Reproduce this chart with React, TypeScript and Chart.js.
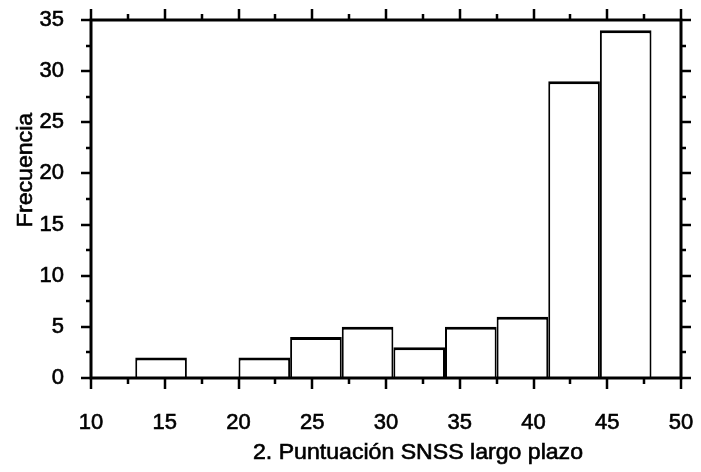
import React, { useEffect, useRef } from "react";
import { Chart, registerables } from "chart.js";

Chart.register(...registerables);

// Histogram bins (lower/upper edges) and their frequencies
const binEdges = [13, 16.5, 20, 23.5, 27, 30.5, 34, 37.5, 41, 44.5, 48];
const frequencies = [2, 0, 2, 4, 5, 3, 5, 6, 29, 34];

const xTickValues = [10, 15, 20, 25, 30, 35, 40, 45, 50];
const yTickValues = [0, 5, 10, 15, 20, 25, 30, 35];

const xTitle = "2. Puntuación SNSS largo plazo";
const yTitle = "Frecuencia";

const FONT = "'Liberation Sans', Arial, Helvetica, sans-serif";

// Draws the boxed frame, outward major/minor ticks on all four sides and the axis titles
const framePlugin = {
  id: "frame",
  afterDraw(chart: any) {
    const { ctx, chartArea } = chart;
    const { left, right, top, bottom } = chartArea;
    const xs = chart.scales.x;
    const ys = chart.scales.y;
    ctx.save();
    ctx.strokeStyle = "#000";
    ctx.lineCap = "butt";

    ctx.lineWidth = 2.5;
    const majorLen = 11;
    const minorLen = 6;

    const drawX = (v: number, len: number) => {
      const px = Math.round(xs.getPixelForValue(v));
      ctx.beginPath();
      ctx.moveTo(px, bottom);
      ctx.lineTo(px, bottom + len);
      ctx.moveTo(px, top);
      ctx.lineTo(px, top - len);
      ctx.stroke();
    };
    const drawY = (v: number, len: number) => {
      const py = Math.round(ys.getPixelForValue(v));
      ctx.beginPath();
      ctx.moveTo(left, py);
      ctx.lineTo(left - len, py);
      ctx.moveTo(right, py);
      ctx.lineTo(right + len, py);
      ctx.stroke();
    };

    xTickValues.forEach((v, i) => {
      drawX(v, majorLen);
      if (i < xTickValues.length - 1) drawX((v + xTickValues[i + 1]) / 2, minorLen);
    });
    yTickValues.forEach((v, i) => {
      drawY(v, majorLen - 1);
      if (i < yTickValues.length - 1) drawY((v + yTickValues[i + 1]) / 2, minorLen - 1);
    });

    ctx.lineWidth = 3;
    ctx.strokeRect(left, top, right - left, bottom - top);

    ctx.fillStyle = "#000";
    ctx.font = `22px ${FONT}`;
    ctx.textAlign = "center";
    ctx.textBaseline = "alphabetic";
    ctx.lineWidth = 0.6;

    ctx.save();
    ctx.translate(418, 459);
    ctx.scale(1.05, 1);
    ctx.fillText(xTitle, 0, 0);
    ctx.strokeText(xTitle, 0, 0);
    ctx.restore();

    ctx.save();
    ctx.translate(32, 170);
    ctx.rotate(-Math.PI / 2);
    ctx.scale(1.05, 1);
    ctx.fillText(yTitle, 0, 0);
    ctx.strokeText(yTitle, 0, 0);
    ctx.restore();

    ctx.restore();
  },
};

// Fixed scale sizes, without the extra padding Chart.js reserves for label overhang
const fixScale = (size: { width?: number; height?: number }) => (s: any) => {
  if (size.width !== undefined) s.width = size.width;
  if (size.height !== undefined) s.height = size.height;
  s.paddingTop = 0;
  s.paddingBottom = 0;
  s.paddingLeft = 0;
  s.paddingRight = 0;
};

export default function App() {
  const canvasRef = useRef<HTMLCanvasElement | null>(null);

  useEffect(() => {
    const canvas = canvasRef.current;
    if (!canvas) return;

    const points = frequencies.map((f, i) => ({
      x: (binEdges[i] + binEdges[i + 1]) / 2,
      y: f,
    }));

    const tickFont = { family: FONT, size: 22 };

    const chart = new Chart(canvas, {
      type: "bar",
      data: {
        datasets: [
          {
            data: points as any,
            backgroundColor: "#ffffff",
            borderColor: "#000000",
            borderWidth: { top: 3, left: 2, right: 2, bottom: 0 },
            borderSkipped: "start",
            barPercentage: 1,
            categoryPercentage: 1,
            inflateAmount: 0,
          },
        ],
      },
      options: {
        responsive: false,
        animation: false,
        devicePixelRatio: 1,
        layout: { padding: { left: 0, right: 20, top: 20, bottom: 0 } },
        plugins: {
          legend: { display: false },
          tooltip: { enabled: false },
        },
        scales: {
          x: {
            type: "linear",
            min: 10,
            max: 50,
            offset: false,
            afterFit: fixScale({ height: 94 }),
            afterBuildTicks: (s: any) => {
              s.ticks = xTickValues.map((v) => ({ value: v }));
            },
            grid: {
              display: true,
              drawOnChartArea: false,
              drawTicks: true,
              tickLength: 10,
              color: "rgba(0,0,0,0)",
              offset: false,
            },
            border: { display: false },
            ticks: {
              padding: 22,
              color: "#000",
              font: tickFont,
              textStrokeColor: "#000",
              textStrokeWidth: 0.6,
              maxRotation: 0,
              autoSkip: false,
            },
          },
          y: {
            type: "linear",
            min: 0,
            max: 35,
            afterFit: fixScale({ width: 91 }),
            afterBuildTicks: (s: any) => {
              s.ticks = yTickValues.map((v) => ({ value: v }));
            },
            grid: {
              display: true,
              drawOnChartArea: false,
              drawTicks: true,
              tickLength: 10,
              color: "rgba(0,0,0,0)",
            },
            border: { display: false },
            ticks: {
              padding: 17,
              color: "#000",
              font: tickFont,
              textStrokeColor: "#000",
              textStrokeWidth: 0.6,
              autoSkip: false,
            },
          },
        },
      },
      plugins: [framePlugin],
    });

    return () => chart.destroy();
  }, []);

  return (
    <canvas
      ref={canvasRef}
      width={701}
      height={472}
      style={{ position: "fixed", left: 0, top: 0, width: 701, height: 472, background: "#fff" }}
    />
  );
}
